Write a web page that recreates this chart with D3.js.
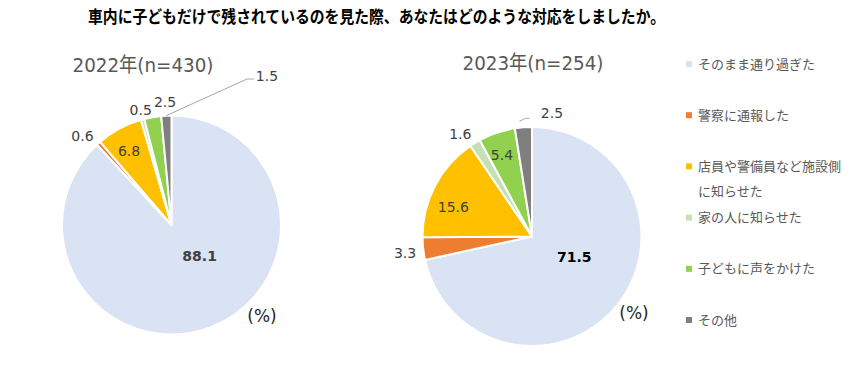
<!DOCTYPE html>
<html lang="ja">
<head>
<meta charset="UTF-8">
<title>車内に子どもだけで残されているのを見た際の対応</title>
<script src="https://d3js.org/d3.v7.min.js"></script>
<style>
  body { margin: 0; background: #fff; }
  svg text { font-family: "DejaVu Sans", "Noto Sans CJK JP", sans-serif; }
  .jp { font-family: "Noto Sans CJK JP", sans-serif !important; }
</style>
</head>
<body>
<div id="chart"></div>
<script>
const categories = ["そのまま通り過ぎた", "警察に通報した", "店員や警備員など施設側に知らせた", "家の人に知らせた", "子どもに声をかけた", "その他"];
const legendLines = [["そのまま通り過ぎた"], ["警察に通報した"], ["店員や警備員など施設側", "に知らせた"], ["家の人に知らせた"], ["子どもに声をかけた"], ["その他"]];
const values2022 = [88.1, 0.6, 6.8, 0.5, 2.5, 1.5];
const values2023 = [71.5, 3.3, 15.6, 1.6, 5.4, 2.5];
const colors = ["#dae3f3", "#ed7d31", "#ffc000", "#c5e0b4", "#92d050", "#7f7f7f"];

const width = 862, height = 365;
const svg = d3.select("#chart").append("svg")
  .attr("width", width).attr("height", height);

svg.append("text")
  .attr("class", "jp")
  .attr("x", 88).attr("y", 23)
  .attr("textLength", 577).attr("lengthAdjust", "spacingAndGlyphs")
  .style("font-size", "17px").style("font-weight", "bold").style("fill", "#000")
  .text("車内に子どもだけで残されているのを見た際、あなたはどのような対応をしましたか。");

const r = 109.5;
const pie = d3.pie().sort(null);
const arc = d3.arc().innerRadius(0).outerRadius(r);

// label placement per slice: [angle in degrees, distance from centre, bold]
const charts = [
  { title: "2022年(n=430)", values: values2022, cx: 171.5, cy: 225, tx: 143, ty: 72,
    labels: [[138, 42, true], [315, 126], [330, 85], [345, 119], [357, 123], [null]],
    leader: 5, leaderAt: [247, 79], leaderLabel: [267, 76], pct: [262, 322], bigFill: "#404040" },
  { title: "2023年(n=254)", values: values2023, cx: 532, cy: 236.5, tx: 533, ty: 70,
    labels: [[116, 47, true], [262.6, 128], [290.5, 84], [325, 125], [339.8, 87], [9.2, 125]],
    leader: -1, pct: [634, 319], bigFill: "#000" }
];

const rad = Math.PI / 180;

charts.forEach(c => {
  const g = svg.append("g").attr("transform", `translate(${c.cx},${c.cy})`);
  const arcs = pie(c.values);

  g.selectAll("path").data(arcs).join("path")
    .attr("d", arc)
    .attr("fill", (d, i) => colors[i])
    .attr("stroke", "#fff").attr("stroke-width", 2).attr("stroke-linejoin", "round");

  svg.append("text")
    .attr("x", c.tx - 70.5).attr("y", c.ty)
    .attr("textLength", 141).attr("lengthAdjust", "spacingAndGlyphs")
    .style("font-size", "20px").style("fill", "#595959")
    .text(c.title);

  c.labels.forEach((l, i) => {
    if (l[0] === null) return;
    const a = l[0] * rad;
    g.append("text")
      .attr("x", l[1] * Math.sin(a)).attr("y", -l[1] * Math.cos(a))
      .attr("text-anchor", "middle").attr("dy", "0.35em")
      .style("font-size", "14px")
      .style("font-weight", l[2] ? "bold" : "normal")
      .style("fill", l[2] ? c.bigFill : "#404040")
      .text(c.values[i].toFixed(1));
  });

  if (c.leader >= 0) {
    const d = arcs[c.leader];
    const m = (d.startAngle + d.endAngle) / 2;
    const p0 = [c.cx + r * Math.sin(m), c.cy - r * Math.cos(m)];
    svg.append("polyline")
      .attr("points", [p0, c.leaderAt, [c.leaderAt[0] + 7, c.leaderAt[1]]].map(p => p.join(",")).join(" "))
      .attr("fill", "none").attr("stroke", "#a6a6a6").attr("stroke-width", 1);
    svg.append("text")
      .attr("x", c.leaderLabel[0]).attr("y", c.leaderLabel[1])
      .attr("text-anchor", "middle").attr("dy", "0.35em")
      .style("font-size", "14px").style("fill", "#404040")
      .text(c.values[c.leader].toFixed(1));
  } else {
    const d = arcs[5];
    const m = (d.startAngle + d.endAngle) / 2;
    const p0 = [c.cx + r * Math.sin(m), c.cy - r * Math.cos(m)];
    svg.append("polyline")
      .attr("points", [[p0[0] - 4, p0[1] - 6], [p0[0] + 2, p0[1] - 9], [p0[0] + 6, p0[1] - 9]].map(p => p.join(",")).join(" "))
      .attr("fill", "none").attr("stroke", "#a6a6a6").attr("stroke-width", 1);
  }

  svg.append("text")
    .attr("x", c.pct[0]).attr("y", c.pct[1])
    .attr("text-anchor", "middle")
    .style("font-size", "17px").style("fill", "#262626")
    .text("(%)");
});

// legend
const legendY = d3.scalePoint().domain(d3.range(categories.length)).range([64, 320]);
const lg = svg.append("g");
legendLines.forEach((lines, i) => {
  const y = legendY(i);
  lg.append("rect")
    .attr("x", 686).attr("y", y - 3).attr("width", 6).attr("height", 6)
    .attr("fill", colors[i]);
  lines.forEach((t, j) => {
    lg.append("text")
      .attr("class", "jp")
      .attr("x", 698).attr("y", y + j * 25).attr("dy", "0.35em")
      .style("font-size", "13px").style("fill", "#595959")
      .text(t);
  });
});
</script>
</body>
</html>
